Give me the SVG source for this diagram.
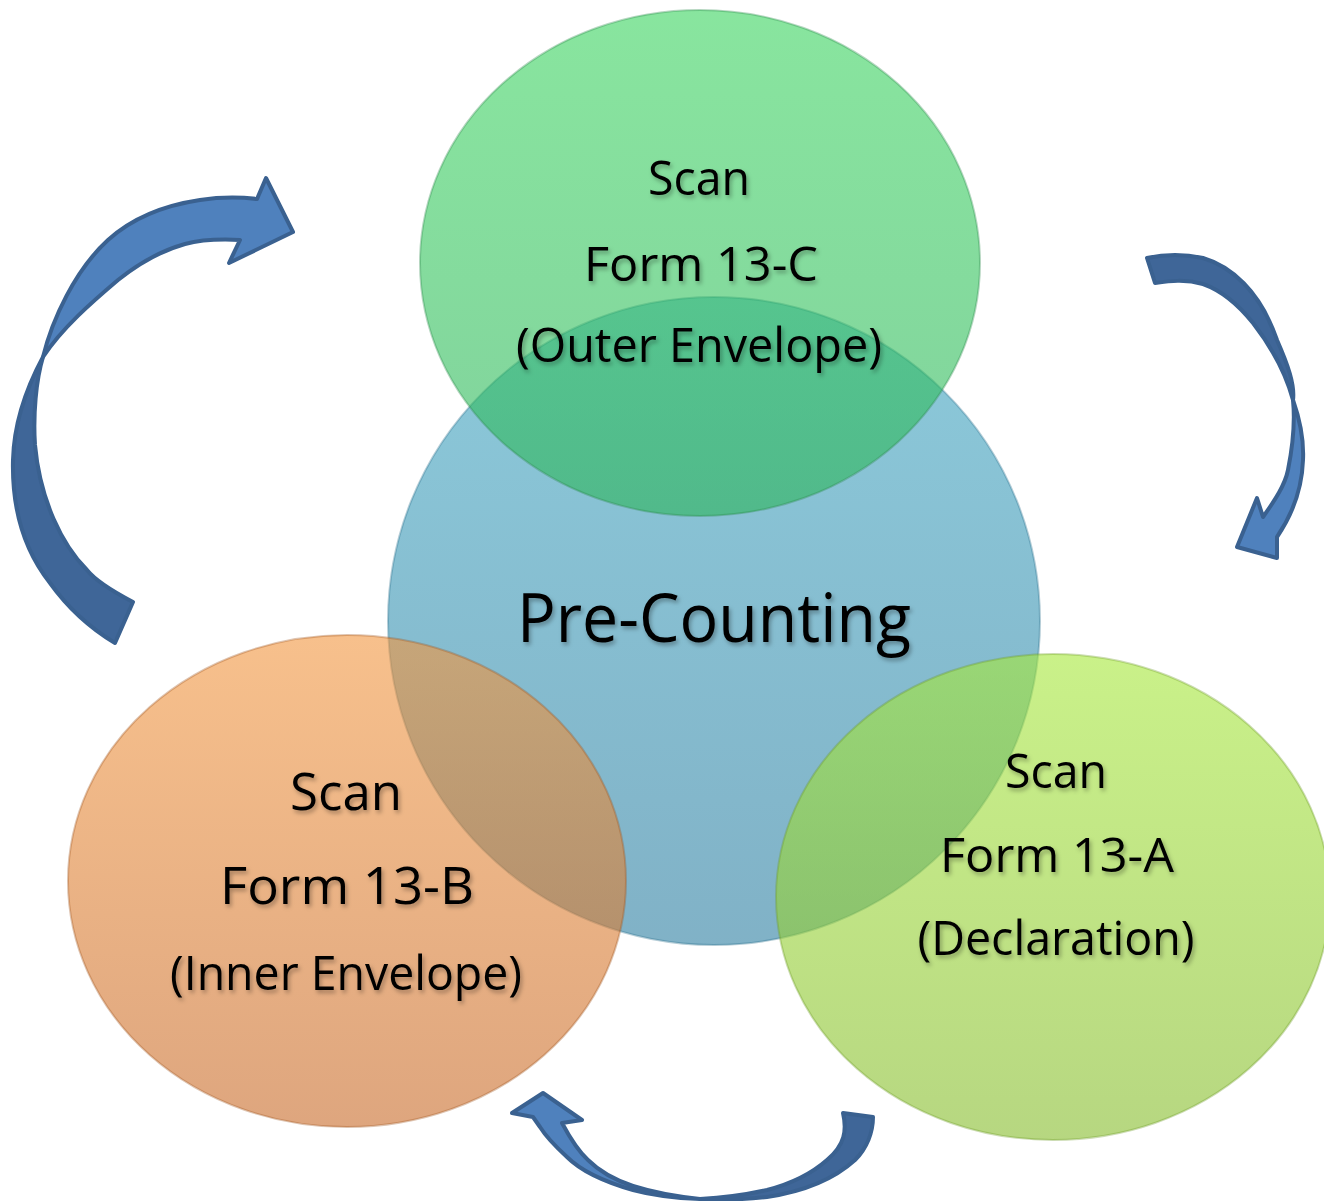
<svg xmlns="http://www.w3.org/2000/svg" width="1324" height="1201" viewBox="0 0 1324 1201">
<defs>
<linearGradient id="gBlue" x1="0" y1="0" x2="0" y2="1"><stop offset="0" stop-color="#3fa6c2"/><stop offset="1" stop-color="#2c7ea1"/></linearGradient>
<linearGradient id="gGreen" x1="0" y1="0" x2="0" y2="1"><stop offset="0" stop-color="#39d45e"/><stop offset="1" stop-color="#2cb45a"/></linearGradient>
<linearGradient id="gOrange" x1="0" y1="0" x2="0" y2="1"><stop offset="0" stop-color="#f2963f"/><stop offset="1" stop-color="#c86a28"/></linearGradient>
<linearGradient id="gLime" x1="0" y1="0" x2="0" y2="1"><stop offset="0" stop-color="#a6e83a"/><stop offset="1" stop-color="#86bc2c"/></linearGradient>
<filter id="shadow" x="-10%" y="-30%" width="120%" height="160%"><feDropShadow dx="2" dy="3" stdDeviation="2" flood-color="#000" flood-opacity="0.3"/></filter>
</defs>
<style>
.node ellipse{fill-opacity:0.6;stroke-width:2;stroke-opacity:0.35}
.lbl{font-family:"Open Sans","Noto Sans",sans-serif;fill:#000;text-anchor:middle;filter:url(#shadow)}
.arrL{fill:#4f81bd;stroke:#3a6190;stroke-width:4;stroke-linejoin:round}
.arrD{fill:#3f6698;stroke:#3a6190;stroke-width:4;stroke-linejoin:round}
</style>
<rect width="1324" height="1201" fill="#fff"/>
<g id="node-precounting" class="node">
<ellipse cx="714" cy="621" rx="326" ry="324" fill="url(#gBlue)" stroke="#2a6f8c"/>
</g>
<g id="node-13c" class="node">
<ellipse cx="700" cy="263" rx="280" ry="253" fill="url(#gGreen)" stroke="#2a8a4a"/>
</g>
<g id="node-13b" class="node">
<ellipse cx="347" cy="881" rx="279" ry="246" fill="url(#gOrange)" stroke="#a05520"/>
</g>
<g id="node-13a" class="node">
<ellipse cx="1053" cy="897" rx="277" ry="243" fill="url(#gLime)" stroke="#6e9a25"/>
</g>
<g id="labels">
<text class="lbl" x="714" y="642" font-size="68" textLength="394" lengthAdjust="spacingAndGlyphs">Pre-Counting</text>
<text class="lbl" x="699" y="195" font-size="48" textLength="102" lengthAdjust="spacingAndGlyphs">Scan</text>
<text class="lbl" x="701" y="281" font-size="48" textLength="234" lengthAdjust="spacingAndGlyphs">Form 13-C</text>
<text class="lbl" x="699" y="362" font-size="48" textLength="366" lengthAdjust="spacingAndGlyphs">(Outer Envelope)</text>
<text class="lbl" x="346" y="810" font-size="52" textLength="112" lengthAdjust="spacingAndGlyphs">Scan</text>
<text class="lbl" x="347" y="904" font-size="52" textLength="254" lengthAdjust="spacingAndGlyphs">Form 13-B</text>
<text class="lbl" x="346" y="990" font-size="48" textLength="352" lengthAdjust="spacingAndGlyphs">(Inner Envelope)</text>
<text class="lbl" x="1056" y="788" font-size="48" textLength="102" lengthAdjust="spacingAndGlyphs">Scan</text>
<text class="lbl" x="1057" y="872" font-size="48" textLength="234" lengthAdjust="spacingAndGlyphs">Form 13-A</text>
<text class="lbl" x="1056" y="955" font-size="48" textLength="277" lengthAdjust="spacingAndGlyphs">(Declaration)</text>
</g>
<g id="connectors">
<path class="arrD" d="M43,357 C28,385 14,420 13,460 C12,500 20,545 50,583 C68,608 90,628 115,643 L133,602 C110,590 95,580 87,570 C62,545 40,500 35,445 C33,415 36,380 43,357 Z"/>
<path class="arrL" d="M43,357 C52,320 75,270 108,240 C130,220 160,206 200,200 C220,197 240,197 257,199 L266,178 L293,232 L229,263 L240,240 C220,239 200,240 185,244 C160,251 138,264 118,280 C92,302 62,328 43,357 Z"/>
<path class="arrD" d="M1147,258 C1165,254 1185,254 1203,258 C1230,266 1260,290 1277,340 C1288,365 1295,385 1293,400 C1285,370 1270,345 1253,323 C1237,303 1220,290 1203,284 C1185,279 1170,281 1155,283 Z"/>
<path class="arrL" d="M1293,400 C1300,420 1304,440 1303,460 C1302,490 1292,515 1277,537 L1277,558 L1237,547 L1257,498 L1263,517 C1275,500 1285,485 1288,470 C1293,445 1295,420 1293,400 Z"/>
<path class="arrD" d="M843,1113 C847,1130 845,1145 827,1160 C810,1175 790,1184 767,1190 C745,1195 720,1198 700,1199 C725,1200 750,1199 767,1197 C800,1192 833,1180 855,1160 C867,1148 873,1132 873,1117 Z"/>
<path class="arrL" d="M700,1199 C675,1198 655,1196 633,1190 C605,1182 580,1170 567,1157 C555,1146 545,1135 540,1127 L533,1117 L512,1113 L543,1093 L582,1120 L562,1123 C570,1138 577,1150 588,1160 C600,1172 615,1180 633,1186 C655,1193 680,1197 700,1199 Z"/>
</g>
</svg>
